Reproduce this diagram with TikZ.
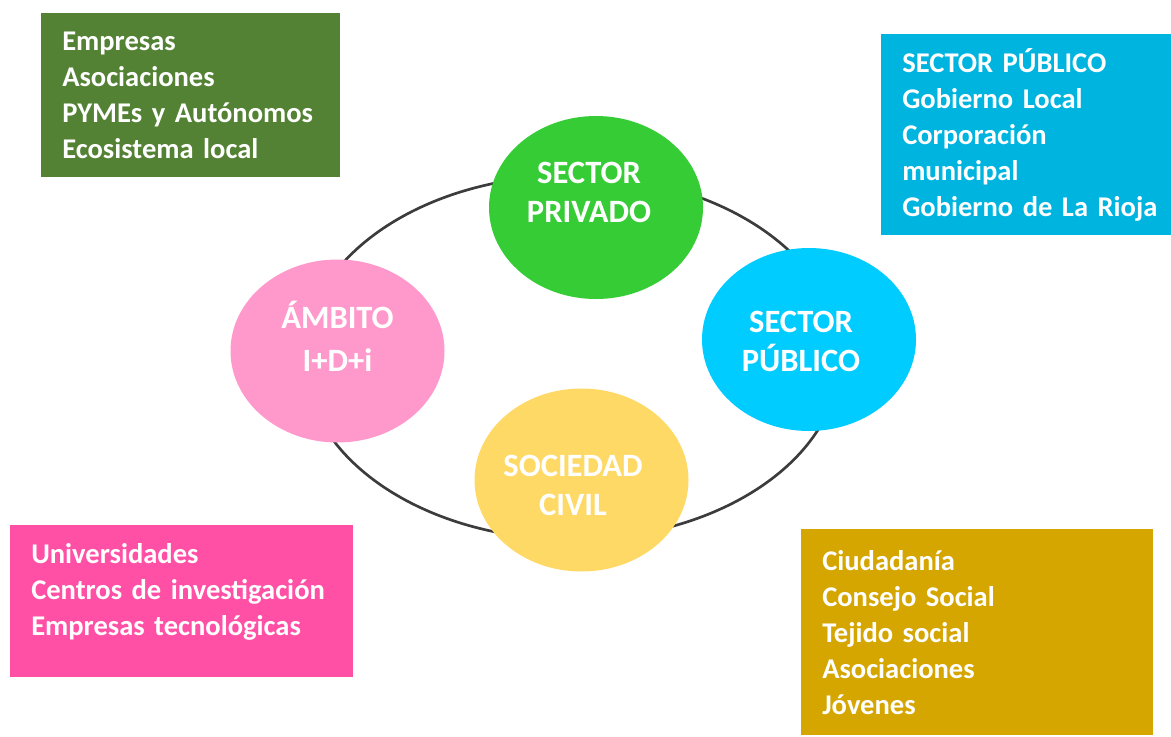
\documentclass[tikz,border=0pt]{standalone}
\usepackage{fontspec}
\setmainfont{Carlito}
\usetikzlibrary{shapes.geometric}
\definecolor{bgreen}{HTML}{548235}
\definecolor{bblue}{HTML}{00B4E0}
\definecolor{bpink}{HTML}{FF50A6}
\definecolor{bgold}{HTML}{D5A500}
\definecolor{cpriv}{HTML}{36CC36}
\definecolor{cidi}{HTML}{FF99CC}
\definecolor{cpub}{HTML}{00CCFF}
\definecolor{csoc}{HTML}{FFD966}
\definecolor{ringgray}{HTML}{3C3C3C}
\begin{document}
\begin{tikzpicture}[x=0.75pt, y=-0.75pt,
    ring/.style={draw=ringgray, line width=2pt},
    blob/.style={ellipse, minimum width=160.5pt, minimum height=137.25pt, inner sep=0pt},
    blobtext/.style={text=white, align=center, font=\fontsize{24.4}{29.25}\selectfont\bfseries},
    infobox/.style={rectangle, anchor=north west, inner xsep=15.75pt, inner ysep=0pt, text=white, align=left,
        font=\fontsize{21.4}{27}\selectfont\bfseries, execute at begin node={\hyphenpenalty=10000 }}]
\useasboundingbox (0,0) rectangle (1171,736);
% outer ring
\coordinate (hub) at (572,357.5);
\draw[ring] (hub) ellipse [x radius=268, y radius=182];
% the four sectors
\foreach \n/\x/\y/\c in {priv/596/207.5/cpriv, idi/337.5/351/cidi, pub/809/339.5/cpub, soc/581.5/480/csoc} {
    \node[blob, fill=\c] (\n) at (\x,\y) {};
}
\node[blobtext] (priv-t) at (589,192.5) {SECTOR\\PRIVADO};
\node[blobtext] (idi-t) at (337.5,336) {ÁMBITO\\[3pt]I+D+i};
\node[blobtext] (pub-t) at (801,341) {SECTOR\\PÚBLICO};
\node[blobtext] (soc-t) at (573,485) {SOCIEDAD\\CIVIL};
% side boxes
\node[infobox, fill=bgreen, text width=192.75pt, minimum height=123pt] (privbox) at (41,13)
    {Empresas\\Asociaciones\\PYMEs~y~Autónomos\\Ecosistema~local};
\node[infobox, fill=bblue, text width=186pt, minimum height=150.75pt] (pubbox) at (881,34)
    {SECTOR~PÚBLICO\\Gobierno~Local\\Corporación\\municipal\\Gobierno~de~La~Rioja};
\node[infobox, fill=bpink, text width=225.75pt, minimum height=114pt, text depth=71pt] (idibox) at (10,525)
    {Universidades\\Centros~de~investigación\\Empresas~tecnológicas};
\node[infobox, fill=bgold, text width=232.5pt, minimum height=154.5pt] (socbox) at (801,529)
    {Ciudadanía\\Consejo~Social\\Tejido~social\\Asociaciones\\Jóvenes};
\end{tikzpicture}
\end{document}
